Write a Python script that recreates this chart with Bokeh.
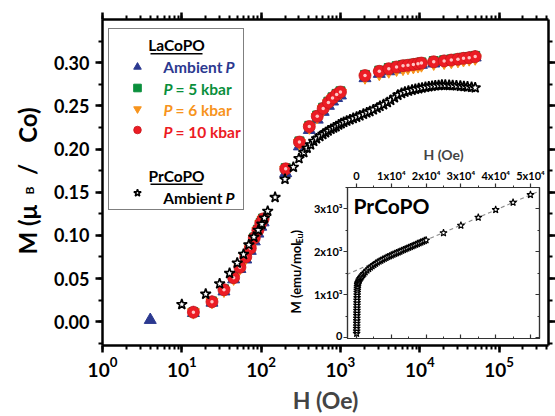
import math
import numpy as np
from bokeh.plotting import figure
from bokeh.models import (LogAxis, LinearAxis, Range1d, SingleIntervalTicker, LogTicker,
                          NumeralTickFormatter, CustomJSTickFormatter, Label, BoxAnnotation,
                          Legend, LegendItem, Slope)
from bokeh.embed import file_html
from bokeh.resources import INLINE

FONT = "Lato"

# ---------------- data ----------------
# LaCoPO, ambient pressure
H_la_amb = [4, 14, 24, 34, 45, 54, 64, 73, 82, 91, 99, 106, 204, 304, 405, 510, 606, 705, 795, 895,
            1000, 2040, 3090, 4070, 5100, 6150, 7100, 8300, 9500, 10500, 15000, 20300, 25000, 30300,
            35600, 42000, 50000]
M_la_amb = [0.002, 0.010, 0.022, 0.035, 0.049, 0.061, 0.072, 0.082, 0.093, 0.102, 0.110, 0.115,
            0.172, 0.203, 0.222, 0.234, 0.243, 0.250, 0.255, 0.259, 0.262, 0.282, 0.287, 0.290,
            0.292, 0.294, 0.295, 0.296, 0.297, 0.2975, 0.299, 0.301, 0.302, 0.303, 0.304, 0.305, 0.306]
# LaCoPO under pressure (same field points)
H_la_p = [14, 24, 34, 45, 54, 64, 73, 82, 91, 99, 106, 204, 304, 405, 510, 606, 705, 795, 895,
          1000, 2040, 3090, 4070, 5100, 6150, 7100, 8300, 9500, 10500, 15000, 20300, 25000, 30300,
          35600, 42000, 50000]
M_la_5 = [0.011, 0.0235, 0.0375, 0.0515, 0.0635, 0.0755, 0.0855, 0.0975, 0.1065, 0.1145, 0.1195,
          0.1778, 0.2088, 0.2268, 0.2388, 0.2478, 0.2548, 0.2598, 0.2638, 0.2668,
          0.2858, 0.2908, 0.2938, 0.2958, 0.2973, 0.2978, 0.2988, 0.2996, 0.3003,
          0.3018, 0.3028, 0.3038, 0.3048, 0.3058, 0.3066, 0.3078]
M_la_6 = [0.011, 0.023, 0.036, 0.050, 0.062, 0.074, 0.084, 0.096, 0.105, 0.113, 0.118,
          0.176, 0.207, 0.225, 0.237, 0.246, 0.253, 0.258, 0.262, 0.265,
          0.283, 0.287, 0.290, 0.292, 0.293, 0.294, 0.295, 0.296, 0.297,
          0.299, 0.300, 0.301, 0.302, 0.303, 0.304, 0.305]
M_la_10 = [0.011, 0.023, 0.037, 0.051, 0.063, 0.075, 0.085, 0.097, 0.106, 0.114, 0.119,
           0.177, 0.208, 0.226, 0.238, 0.247, 0.254, 0.259, 0.263, 0.266,
           0.285, 0.290, 0.293, 0.295, 0.2965, 0.297, 0.298, 0.2988, 0.2995,
           0.301, 0.302, 0.303, 0.304, 0.305, 0.3058, 0.307]
# PrCoPO, ambient pressure
H_pr = [10, 20, 30, 40, 50, 60, 70, 81, 92, 102, 110, 121, 150, 200, 255, 300, 345, 380, 420, 460,
        500, 550, 600, 650, 700, 760, 820, 880, 950, 1020, 1100, 1200, 1320, 1450, 1600, 1760, 1950,
        2150, 2350, 2600, 2900, 3150, 3500, 3900, 4300, 4800, 5300, 5900, 6500, 7200, 8000, 8800,
        9700, 10700, 11800, 13000, 14300, 15700, 17300, 19000, 21000, 23500, 26000, 29000, 32500,
        36000, 40000, 45000, 50000]
M_pr = [0.020, 0.032, 0.044, 0.056, 0.068, 0.078, 0.089, 0.098, 0.106, 0.113, 0.120, 0.128, 0.144,
        0.165, 0.179, 0.189, 0.196, 0.201, 0.205, 0.209, 0.212, 0.2146, 0.217, 0.219, 0.221, 0.223,
        0.2245, 0.226, 0.228, 0.2295, 0.231, 0.2325, 0.234, 0.2355, 0.237, 0.2385, 0.2405, 0.242,
        0.2435, 0.2455, 0.2475, 0.2495, 0.2515, 0.254, 0.2565, 0.2595, 0.2625, 0.2645, 0.266, 0.2672,
        0.2683, 0.2692, 0.270, 0.2708, 0.2715, 0.2722, 0.2728, 0.2733, 0.2737, 0.274, 0.274, 0.2738,
        0.2736, 0.2733, 0.2729, 0.2725, 0.272, 0.2715, 0.271]
# Inset: PrCoPO M (emu/mol) vs H (Oe), linear axes
H_in = [20, 30, 40, 50, 60, 70, 80, 90, 100, 110, 120, 130, 140, 150, 165, 180, 200, 220, 250, 280, 320,
        400, 500, 650, 800, 1000, 1250, 1500, 1800, 2100, 2500, 3000, 3500, 4000, 4500, 5000,
        5500, 6000, 6500, 7000, 7500, 8000, 8500, 9000, 9500, 10000, 10500, 11000, 11500, 12000,
        12500, 13000, 13500, 14000, 14500, 15000, 15500, 16000, 16500, 17000, 17500, 18000, 18500,
        19000, 19500, 20000, 25000, 30000, 35000, 40000, 45000, 50000]
M_in = [90, 150, 210, 270, 330, 390, 450, 510, 570, 630, 690, 750, 810, 870, 930, 990, 1050, 1100,
        1150, 1190, 1230,
        1260, 1285, 1315, 1340, 1370, 1400, 1430, 1460, 1490, 1525, 1565, 1600, 1635, 1665, 1695,
        1725, 1752, 1775, 1798, 1820, 1840, 1860, 1880, 1898, 1918, 1937, 1955, 1973, 1990,
        2008, 2026, 2044, 2062, 2080, 2097, 2115, 2132, 2150, 2168, 2186, 2203, 2221,
        2238, 2256, 2272, 2440, 2615, 2800, 2980, 3150, 3330]

legend_texts = ["Ambient", "P", "= 5 kbar", "= 6 kbar", "= 10 kbar"]

C_BLUE = "#2b3990"
C_GREEN = "#0a8f3c"
C_ORANGE = "#f7941d"
C_RED = "#ec1c24"

W, H = 555, 416

# ---------------- main figure ----------------
p = figure(width=W, height=H, x_axis_type="log", x_range=Range1d(1, 4.2e5),
           y_range=Range1d(-0.0276, 0.35), output_backend="svg", toolbar_location=None,
           min_border_left=102, min_border_right=6, min_border_top=19, min_border_bottom=69)
p.outline_line_color = None
p.grid.visible = False
p.background_fill_color = "white"
p.border_fill_color = "white"


def style_axis(ax, size, show_labels=True):
    ax.axis_line_width = 2.5
    ax.axis_line_color = "black"
    ax.major_tick_line_width = 2.5
    ax.major_tick_out = 7
    ax.major_tick_in = 0
    ax.minor_tick_line_width = 2
    ax.minor_tick_out = 4
    ax.minor_tick_in = 0
    ax.major_label_text_font = FONT
    ax.major_label_text_font_style = "bold"
    ax.major_label_text_color = "black"
    if show_labels:
        ax.major_label_text_font_size = size
    else:
        ax.major_label_text_font_size = "1px"
        ax.major_label_text_alpha = 0
        ax.major_label_standoff = 0


xb = p.xaxis[0]
xb.ticker = LogTicker(num_minor_ticks=10)
style_axis(xb, "19px")
xb.major_label_standoff = 4
xb.axis_label = "H (Oe)"
xb.axis_label_text_font = FONT
xb.axis_label_text_font_style = "bold"
xb.axis_label_text_font_size = "23px"
xb.axis_label_standoff = 6

yl = p.yaxis[0]
yl.ticker = SingleIntervalTicker(interval=0.05, num_minor_ticks=2)
yl.formatter = NumeralTickFormatter(format="0.00")
style_axis(yl, "18px")
yl.major_label_standoff = 6

xt = LogAxis(ticker=LogTicker(num_minor_ticks=10))
style_axis(xt, "1px", show_labels=False)
p.add_layout(xt, "above")
yr = LinearAxis(ticker=SingleIntervalTicker(interval=0.05, num_minor_ticks=2))
style_axis(yr, "1px", show_labels=False)
p.add_layout(yr, "right")

r_blue = p.scatter(H_la_amb, M_la_amb, marker="triangle", size=12, color=C_BLUE)
r_green = p.scatter(H_la_p, M_la_5, marker="square", size=9, color=C_GREEN)
r_orange = p.scatter(H_la_p, M_la_6, marker="inverted_triangle", size=12, color=C_ORANGE)
r_red = p.scatter(H_la_p, M_la_10, marker="circle", size=12, fill_color=C_RED,
                  line_color="#c8141b", line_width=0.8)
r_red_hl = p.scatter(H_la_p, M_la_10, marker="circle", size=3.5, fill_color="#ffc4c4",
                     line_color=None)
r_star = p.scatter(H_pr, M_pr, marker="star", size=11, fill_color="white", line_color="black",
                   line_width=1.6)

blank = " "
legend = Legend(items=[
    LegendItem(label=blank, renderers=[]),
    LegendItem(label=blank, renderers=[r_blue]),
    LegendItem(label=blank, renderers=[r_green]),
    LegendItem(label=blank, renderers=[r_orange]),
    LegendItem(label=blank, renderers=[r_red]),
    LegendItem(label=blank, renderers=[]),
    LegendItem(label=blank, renderers=[]),
    LegendItem(label=blank, renderers=[r_star]),
], location=(6, 135), padding=7, spacing=2, glyph_height=19, glyph_width=42, label_height=19,
    label_width=73, label_standoff=5, margin=0, border_line_color="black", border_line_width=1.2,
    background_fill_color="white", background_fill_alpha=1.0, label_text_font_size="16px",
    label_text_line_height=1.23)
p.add_layout(legend)

# ---------------- inset figure ----------------
q = figure(width=261, height=199, x_range=Range1d(-2600, 52600), y_range=Range1d(-25, 3500),
           x_axis_location="above", output_backend="svg", toolbar_location=None,
           min_border_left=59, min_border_right=10, min_border_top=41, min_border_bottom=3)
q.grid.visible = False
q.background_fill_color = "white"
q.border_fill_color = None
q.border_fill_alpha = 0
q.outline_line_color = "#333333"
q.outline_line_width = 1.2


def style_inset_axis(ax, show_labels=True, inward=False):
    ax.axis_line_color = "#333333"
    ax.axis_line_width = 1.2
    ax.major_tick_line_color = "#333333"
    ax.minor_tick_line_color = "#333333"
    ax.major_tick_line_width = 1.2
    ax.minor_tick_line_width = 1
    if inward:
        ax.major_tick_in, ax.major_tick_out = 4, 0
        ax.minor_tick_in, ax.minor_tick_out = 2, 0
    else:
        ax.major_tick_in, ax.major_tick_out = 0, 4
        ax.minor_tick_in, ax.minor_tick_out = 0, 2
    ax.major_label_text_font = FONT
    ax.major_label_text_font_style = "bold"
    ax.major_label_text_color = "black"
    if show_labels:
        ax.major_label_text_font_size = "11px"
        ax.major_label_standoff = 2
    else:
        ax.major_label_text_font_size = "1px"
        ax.major_label_text_alpha = 0
        ax.major_label_standoff = 0


qx = q.xaxis[0]
qx.ticker = SingleIntervalTicker(interval=10000, num_minor_ticks=2)
qx.formatter = CustomJSTickFormatter(code="""
    if (Math.abs(tick) < 1) { return "0"; }
    return Math.round(tick / 10000) + "x10\u2074";
""")
style_inset_axis(qx)
qx.axis_label = "H (Oe)"
qx.axis_label_text_font = FONT
qx.axis_label_text_font_style = "bold"
qx.axis_label_text_font_size = "14px"
qx.axis_label_standoff = 3

qy = q.yaxis[0]
qy.ticker = SingleIntervalTicker(interval=1000, num_minor_ticks=2)
qy.formatter = CustomJSTickFormatter(code="""
    if (Math.abs(tick) < 1) { return "0"; }
    return Math.round(tick / 1000) + "x10\u00b3";
""")
style_inset_axis(qy)
qy.major_label_standoff = 1

qb = LinearAxis(ticker=SingleIntervalTicker(interval=10000, num_minor_ticks=2))
style_inset_axis(qb, show_labels=False, inward=True)
q.add_layout(qb, "below")
qr = LinearAxis(ticker=SingleIntervalTicker(interval=1000, num_minor_ticks=2))
style_inset_axis(qr, show_labels=False, inward=True)
q.add_layout(qr, "right")

# linear fit of the high-field part (dashed line)
H_arr = np.array(H_in, dtype=float)
M_arr = np.array(M_in, dtype=float)
sel = H_arr >= 10000
fit_slope, fit_icpt = np.polyfit(H_arr[sel], M_arr[sel], 1)
fit = Slope(gradient=float(fit_slope), y_intercept=float(fit_icpt), line_color="#8a8a8a",
            line_dash="4 3", line_width=1.1, level="underlay")
q.add_layout(fit)

q.scatter(H_in, M_in, marker="star", size=7.5, fill_color="white", line_color="black",
          line_width=1.1)
q.add_layout(Label(x=6, y=133, x_units="screen", y_units="screen", text="PrCoPO",
                   text_font=FONT, text_font_size="21px", text_font_style="bold",
                   text_color="black", text_baseline="middle"))
q.styles = {"position": "absolute", "left": "288px", "top": "142px", "z-index": "10"}

# ---------------- text overlay (titles, legend texts) ----------------
ov = figure(width=W, height=H, x_range=Range1d(0, W), y_range=Range1d(0, H),
            x_axis_location=None, y_axis_location=None, output_backend="svg",
            toolbar_location=None, min_border=0)
ov.grid.visible = False
ov.outline_line_color = None
ov.background_fill_alpha = 0
ov.border_fill_alpha = 0
ov.styles = {"position": "absolute", "left": "0px", "top": "0px", "z-index": "20",
             "pointer-events": "none"}


def lbl(text, X, Y, size, color="black", align="left", style="bold", angle=0.0):
    ov.add_layout(Label(x=X, y=H - Y, x_units="screen", y_units="screen", text=text,
                        text_font=FONT, text_font_size=f"{size}px", text_font_style=style,
                        text_color=color, text_align=align, text_baseline="middle",
                        angle=angle))


def uline(X0, X1, Y):
    ov.add_layout(BoxAnnotation(left=X0, right=X1, top=H - Y, bottom=H - Y - 1.6,
                                left_units="screen", right_units="screen", top_units="screen",
                                bottom_units="screen", fill_color="black", fill_alpha=1.0,
                                line_color=None))


LF = 15.5
rows = [44.5, 66.5, 88, 109.5, 131, 152.5, 175, 197]
lbl("LaCoPO", 176, rows[0], LF, align="center")
uline(150, 202, rows[0] + 8)
lbl(legend_texts[0], 222, rows[1], LF, color=C_BLUE, align="right")
lbl(legend_texts[1], 225, rows[1], LF, color=C_BLUE, style="bold italic")
for Yc, col, t in [(rows[2], C_GREEN, legend_texts[2]), (rows[3], C_ORANGE, legend_texts[3]),
                   (rows[4], C_RED, legend_texts[4])]:
    lbl(legend_texts[1], 163, Yc, LF, color=col, style="bold italic")
    lbl(t, 175, Yc, LF, color=col)
lbl("PrCoPO", 176, rows[6], LF, align="center")
uline(150, 202, rows[6] + 8)
lbl(legend_texts[0], 222, rows[7], LF, align="right")
lbl(legend_texts[1], 225, rows[7], LF, style="bold italic")

# main y-axis title: M (mu_B / Co)
lbl("M (\u03bc", 27, 254, 24, angle=math.pi / 2)
lbl("B", 29, 190, 12, align="center", angle=math.pi / 2)
lbl("/", 27, 169, 24, align="center", angle=math.pi / 2)
lbl("Co)", 27, 107, 24, align="right", angle=math.pi / 2)

# inset y-axis title: M (emu/mol_Eu)
lbl("M (emu/mol", 295, 313, 13, angle=math.pi / 2)
lbl("Eu", 299, 243, 9, angle=math.pi / 2)
lbl(")", 295, 233, 13, angle=math.pi / 2)

open("out.html", "w").write(file_html([p, q, ov], INLINE))
